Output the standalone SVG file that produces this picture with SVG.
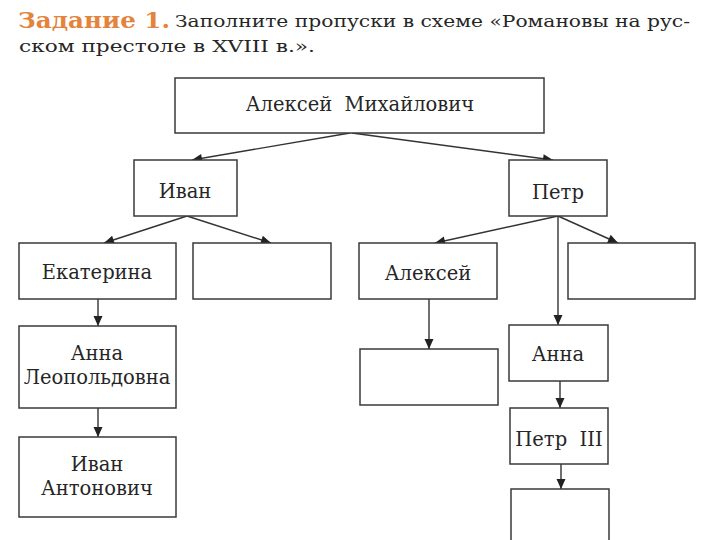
<svg xmlns="http://www.w3.org/2000/svg" width="720" height="540" viewBox="0 0 720 540">
<defs>
<style>
.box{fill:#fff;stroke:#3a3a3a;stroke-width:1.5}
.lbl{font-family:"DejaVu Serif","Liberation Serif",serif;font-size:19.5px;fill:#262626;text-anchor:middle}
.head{font-family:"DejaVu Serif","Liberation Serif",serif;font-size:17px;fill:#262626}
.task{font-family:"DejaVu Serif Condensed","DejaVu Serif","Liberation Serif",serif;font-weight:bold;font-size:23px;fill:#e4843c}
.con{fill:none;stroke:#333;stroke-width:1.4;marker-end:url(#arr)}
</style>
<marker id="arr" markerUnits="userSpaceOnUse" markerWidth="12" markerHeight="12" viewBox="0 0 12 12" refX="11" refY="6" orient="auto">
<path d="M1,1.5 L11,6 L1,10.5 Z" fill="#222"/>
</marker>
</defs>
<rect width="720" height="540" fill="#fff"/>
<g id="header">
<text class="task" x="18" y="28" textLength="152" lengthAdjust="spacingAndGlyphs">Задание 1.</text>
<text class="head" x="175" y="27" textLength="515" lengthAdjust="spacingAndGlyphs">Заполните пропуски в схеме «Романовы на рус-</text>
<text class="head" x="19" y="52" textLength="296" lengthAdjust="spacingAndGlyphs">ском престоле в XVIII в.».</text>
</g>
<g id="connectors">
<path class="con" d="M350,133 L192,160"/>
<path class="con" d="M352,133 L553,160"/>
<path class="con" d="M187,216 L104,243"/>
<path class="con" d="M187,216 L271,243"/>
<path class="con" d="M558,216 L435,243"/>
<path class="con" d="M558,216 L618,243"/>
<path class="con" d="M558,216 L558,325"/>
<path class="con" d="M98,299 L98,326"/>
<path class="con" d="M98,408 L98,437"/>
<path class="con" d="M429,299 L429,349"/>
<path class="con" d="M560,381 L560,408"/>
<path class="con" d="M561,464 L561,489"/>
</g>
<g id="n-aleksei-mikhailovich">
<rect class="box" x="175" y="78" width="369" height="55"/>
<text class="lbl" x="360" y="111" xml:space="preserve">Алексей  Михайлович</text>
</g>
<g id="n-ivan">
<rect class="box" x="134" y="160" width="103" height="56"/>
<text class="lbl" x="185" y="198">Иван</text>
</g>
<g id="n-petr">
<rect class="box" x="509" y="160" width="98" height="56"/>
<text class="lbl" x="558" y="199">Петр</text>
</g>
<g id="n-ekaterina">
<rect class="box" x="19" y="243" width="157" height="56"/>
<text class="lbl" x="97" y="279">Екатерина</text>
</g>
<g id="n-empty-1">
<rect class="box" x="193" y="243" width="138" height="56"/>
</g>
<g id="n-aleksei">
<rect class="box" x="359" y="243" width="138" height="56"/>
<text class="lbl" x="428" y="280">Алексей</text>
</g>
<g id="n-empty-2">
<rect class="box" x="568" y="243" width="127" height="56"/>
</g>
<g id="n-anna-leopoldovna">
<rect class="box" x="19" y="326" width="157" height="82"/>
<text class="lbl" x="97" y="360">Анна</text>
<text class="lbl" x="97" y="384">Леопольдовна</text>
</g>
<g id="n-ivan-antonovich">
<rect class="box" x="19" y="437" width="157" height="80"/>
<text class="lbl" x="97" y="471">Иван</text>
<text class="lbl" x="97" y="495">Антонович</text>
</g>
<g id="n-empty-3">
<rect class="box" x="360" y="349" width="138" height="56"/>
</g>
<g id="n-anna">
<rect class="box" x="509" y="325" width="99" height="56"/>
<text class="lbl" x="558" y="361">Анна</text>
</g>
<g id="n-petr-3">
<rect class="box" x="510" y="408" width="98" height="56"/>
<text class="lbl" x="559" y="446" xml:space="preserve">Петр  III</text>
</g>
<g id="n-empty-4">
<rect class="box" x="511" y="489" width="98" height="60"/>
</g>
</svg>
